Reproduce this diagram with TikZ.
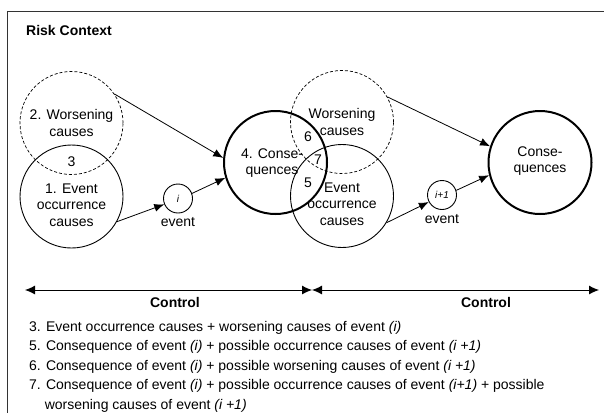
\documentclass[tikz,border=0pt]{standalone}
\usepackage{fontspec}
\setmainfont{Liberation Sans}
\usetikzlibrary{arrows.meta}
\newcommand{\scle}[0] {1pt}

\tikzset{
  cause/.style={shape=circle,draw=black,line width=0.9pt,minimum size=103pt,inner sep=0pt},
  worse/.style={cause,dash pattern=on 3pt off 2pt,line width=0.7pt},
  conseq/.style={cause,line width=2pt},
  evnt/.style={shape=circle,draw=black,line width=0.9pt,minimum size=29pt,inner sep=0pt,font=\fontsize{10}{12}\selectfont\itshape},
  txt/.style={align=center,inner sep=0pt},
  link/.style={-{Latex[length=10pt,width=8pt]},line width=0.8pt},
  ctrl/.style={{Latex[length=10pt,width=9pt]}-{Latex[length=10pt,width=9pt]},line width=0.9pt},
  note/.style={anchor=base west,inner sep=0pt}
}

\begin{document}
\begin{tikzpicture}[x=\scle,y=-\scle,font=\fontsize{14}{16.5}\selectfont]
        \useasboundingbox (0,0) rectangle (604,413);
        %frame of the context
        \draw[line width=1pt,black!80] (604,11) -- (7,11) -- (7,413);
        \node[note,font=\bfseries\fontsize{14}{16.5}\selectfont] (title) at (26,35) {Risk Context};
        %event i and its causes
        \node[worse] (w1) at (71.5,123) {};
        \node[cause] (e1) at (71.5,196.5) {};
        \node[txt] (w1t) at (71.5,123) {2. Worsening\\causes};
        \node[txt] (n3) at (71.5,162) {3};
        \node[txt] (e1t) at (71.5,205) {1. Event\\occurrence\\causes};
        \node[evnt] (i) at (178,198.5) {i};
        \node[txt] (ev1) at (178,222) {event};
        %consequences of i, causes of i+1
        \node[worse] (w2) at (342,122) {};
        \node[cause] (e2) at (342,196) {};
        \node[conseq] (c1) at (275.5,162.5) {};
        \node[txt] (c1t) at (272,163) {4. Conse-\\quences};
        \node[txt] (n6) at (308,137) {6};
        \node[txt] (n7) at (318,160) {7};
        \node[txt] (n5) at (308,183) {5};
        \node[txt] (w2t) at (342,122) {Worsening\\causes};
        \node[txt] (e2t) at (342,204) {Event\\occurrence\\causes};
        \node[evnt] (i1) at (442,195) {i+1};
        \node[txt] (ev2) at (442,219) {event};
        %consequences of i+1
        \node[conseq] (c2) at (540,162.5) {};
        \node[txt] (c2t) at (540,161) {Conse-\\quences};
        %connections of event i
        \path[link] (w1.34) edge (c1.175);
        \path[link] (e1.-29) edge (i.203);
        \path[link] (i.20) edge (c1.197);
        %connections of event i+1
        \path[link] (w2.29) edge (c2.162);
        \path[link] (e2.-31) edge (i1.208);
        \path[link] (i1.18) edge (c2.194);
        %control
        \coordinate (cl) at (25,290);
        \coordinate (cm) at (312,290);
        \coordinate (cr) at (599,290);
        \draw[ctrl] (cl) -- (cm);
        \draw[ctrl] (cm) -- (cr);
        \node[anchor=base,inner sep=0pt,font=\bfseries\fontsize{14}{16.5}\selectfont] (k1) at (175,307) {Control};
        \node[anchor=base,inner sep=0pt,font=\bfseries\fontsize{14}{16.5}\selectfont] (k2) at (486,307) {Control};
        %notes
        \node[note] (t3) at (29,331) {3. Event occurrence causes + worsening causes of event \textit{(i)}};
        \node[note] (t5) at (29,350.5) {5. Consequence of event \textit{(i)} + possible occurrence causes of event \textit{(i +1)}};
        \node[note] (t6) at (29,370) {6. Consequence of event \textit{(i)} + possible worsening causes of event \textit{(i +1)}};
        \node[note] (t7) at (29,389.5) {7. Consequence of event \textit{(i)} + possible occurrence causes of event \textit{(i+1)} + possible};
        \node[note] (t7b) at (29,409) {\phantom{7.~}worsening causes of event \textit{(i +1)}};
    \end{tikzpicture}
\end{document}
